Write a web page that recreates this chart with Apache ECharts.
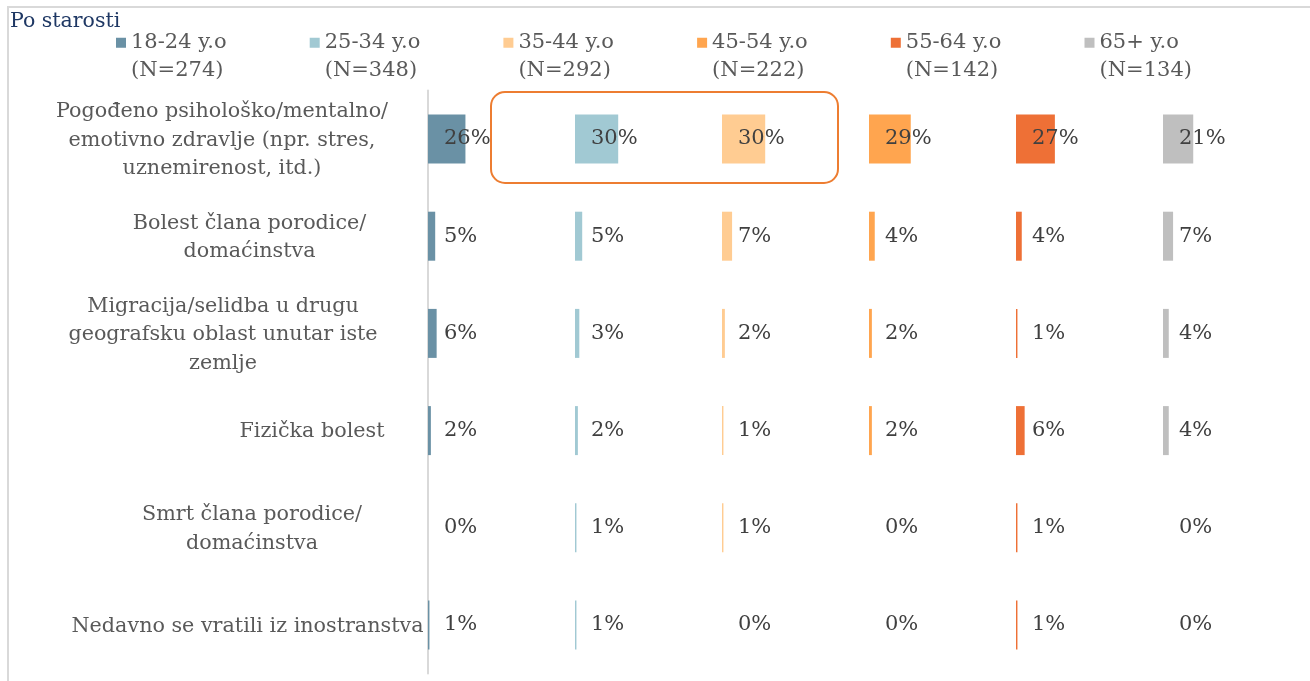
<!DOCTYPE html>
<html>
<head>
<meta charset="utf-8">
<title>Po starosti</title>
<script src="https://cdn.jsdelivr.net/npm/echarts@6/dist/echarts.min.js"></script>
<style>
  html, body { margin: 0; padding: 0; background: #fff; }
  #chart { width: 1310px; height: 681px; }
</style>
</head>
<body>
<div id="chart"></div>
<script>
// Reasons, top to bottom
const categories = [
  'Pogođeno psihološko/mentalno/\nemotivno zdravlje (npr. stres,\nuznemirenost, itd.)',
  'Bolest člana porodice/\ndomaćinstva',
  'Migracija/selidba u drugu\ngeografsku oblast unutar iste\nzemlje',
  'Fizička bolest',
  'Smrt člana porodice/\ndomaćinstva',
  'Nedavno se vratili iz inostranstva'
];

// Age groups (legend names)
const groups = [
  '18-24 y.o\n(N=274)',
  '25-34 y.o\n(N=348)',
  '35-44 y.o\n(N=292)',
  '45-54 y.o\n(N=222)',
  '55-64 y.o\n(N=142)',
  '65+ y.o\n(N=134)'
];

// Share of respondents (%) per age group, in category order
const age18_24 = [26, 5, 6, 2, 0, 1];
const age25_34 = [30, 5, 3, 2, 1, 1];
const age35_44 = [30, 7, 2, 1, 1, 0];
const age45_54 = [29, 4, 2, 2, 0, 0];
const age55_64 = [27, 4, 1, 6, 1, 1];
const age65plus = [21, 7, 4, 4, 0, 0];

const values = [age18_24, age25_34, age35_44, age45_54, age55_64, age65plus];
const colors = ['#6A91A5', '#A1C9D3', '#FFCC92', '#FFA54F', '#EE7036', '#BFBFBF'];

const FONT = '"DejaVu Serif", Georgia, serif';
const TEXT = '#595959';

// per-label block widths so each wrapped label sits like a centred text box
const labelWidths = [404, 349, 402, 224, 344, 353];
const rich = {};
labelWidths.forEach((w, i) => {
  rich['r' + i] = {
    width: w, align: 'center', fontFamily: FONT, fontSize: 20.7,
    lineHeight: 28.5, color: TEXT, padding: [3, 0, 0, 0]
  };
});

const panelLeft = 428, panelStep = 147, panelWidth = 144;
const gridTop = 90.4, gridHeight = 583.2;

const grids = [], xAxes = [], yAxes = [], series = [], legends = [];
groups.forEach((g, i) => {
  grids.push({ left: panelLeft + panelStep * i, top: gridTop, width: panelWidth, height: gridHeight, containLabel: false });
  xAxes.push({ type: 'value', gridIndex: i, min: 0, max: 100, show: false });
  yAxes.push({
    type: 'category', gridIndex: i, data: categories, inverse: true,
    show: i === 0,
    axisLine: { show: i === 0, lineStyle: { color: '#D9D9D9', width: 2 } },
    axisTick: { show: false },
    splitLine: { show: false },
    axisLabel: {
      show: i === 0, margin: 4,
      formatter: (v, idx) => v.split('\n').map(line => '{r' + idx + '|' + line + '}').join('\n'),
      rich: rich
    }
  });
  series.push({
    type: 'bar', name: g, xAxisIndex: i, yAxisIndex: i,
    data: values[i], barWidth: 49,
    itemStyle: { color: colors[i] },
    label: {
      show: true, position: 'insideLeft', distance: 16,
      formatter: '{c}%', fontFamily: FONT, fontSize: 21, color: '#404040'
    },
    emphasis: { disabled: true }
  });
  // a leading empty line keeps the swatch level with the first text line
  legends.push({
    data: [g], left: 116 + 193.7 * i - 5, top: -3.5,
    itemWidth: 10, itemHeight: 10, icon: 'rect',
    selectedMode: false,
    formatter: name => '\n' + name,
    textStyle: { fontFamily: FONT, fontSize: 21, lineHeight: 27.5, color: TEXT }
  });
});

const chart = echarts.init(document.getElementById('chart'), null, { renderer: 'canvas' });
chart.setOption({
  animation: false,
  backgroundColor: '#fff',
  title: {
    text: 'Po starosti', left: 10, top: 11, padding: 0,
    textStyle: { fontFamily: FONT, fontSize: 20.5, fontWeight: 'normal', color: '#1F3864' }
  },
  legend: legends,
  grid: grids,
  xAxis: xAxes,
  yAxis: yAxes,
  series: series
});

// frame lines and the highlight box around the 25-34 / 35-44 results of the first reason
const p1 = chart.convertToPixel({ xAxisIndex: 1, yAxisIndex: 1 }, [0, 0]);
const p2 = chart.convertToPixel({ xAxisIndex: 2, yAxisIndex: 2 }, [0, 0]);
chart.setOption({
  graphic: [
    {
      type: 'polyline', silent: true,
      shape: { points: [[8, 681], [8, 7], [1310, 7]] },
      style: { stroke: '#D9D9D9', lineWidth: 2, fill: null }
    },
    {
      type: 'rect', silent: true,
      shape: { x: p1[0] - 84, y: p1[1] - 47, width: (p2[0] + 116) - (p1[0] - 84), height: 91, r: 14 },
      style: { stroke: '#ED7D31', lineWidth: 2, fill: null }
    }
  ]
});
</script>
</body>
</html>
